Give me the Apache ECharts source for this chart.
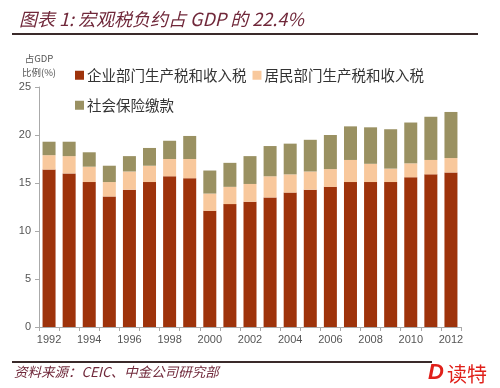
<!DOCTYPE html>
<html><head><meta charset="utf-8">
<script src="https://cdn.jsdelivr.net/npm/echarts@6/dist/echarts.min.js"></script>
<style>html,body{margin:0;padding:0;background:#fff}#c{width:500px;height:388px}</style>
</head><body><div id="c"></div>
<script>
const years = ['1992','1993','1994','1995','1996','1997','1998','1999','2000','2001','2002','2003','2004','2005','2006','2007','2008','2009','2010','2011','2012'];
const corporate = [16.4,16.0,15.1,13.6,14.3,15.1,15.7,15.5,12.1,12.8,13.05,13.5,14.0,14.3,14.6,15.1,15.1,15.1,15.6,15.9,16.1];
const household = [1.5,1.8,1.6,1.5,1.9,1.7,1.8,2.0,1.8,1.8,1.85,2.2,1.9,1.9,1.85,2.3,1.9,1.4,1.45,1.5,1.5];
const social = [1.4,1.5,1.5,1.7,1.6,1.85,1.9,2.4,2.4,2.5,2.9,3.15,3.2,3.3,3.55,3.5,3.8,4.1,4.25,4.5,4.8];
const seriesNames = ['企业部门生产税和收入税','居民部门生产税和收入税','社会保险缴款'];
const yTicks = [0,5,10,15,20,25];

const cjk = '"Noto Sans CJK SC", sans-serif';
const chart = echarts.init(document.getElementById('c'), null, {renderer:'canvas'});
const colors = ['#9e330b','#f8c89c','#9a9162'];
chart.setOption({
  animation:false,
  backgroundColor:'#ffffff',
  color: colors,
  title:{
    text:'图表 1: 宏观税负约占 GDP 的 22.4%',
    left:14, top:5,
    textStyle:{fontFamily:cjk, fontSize:18, fontStyle:'italic', fontWeight:'normal', color:'#70283a'}
  },
  legend:[{
    data:[seriesNames[0], seriesNames[1]],
    left:70, top:63, itemWidth:9, itemHeight:9, itemGap:6, icon:'rect',
    textStyle:{fontFamily:cjk, fontSize:14.5, color:'#333', padding:[0,0,0,-2]}
  },{
    data:[seriesNames[2]],
    left:70, top:93, itemWidth:9, itemHeight:9, icon:'rect',
    textStyle:{fontFamily:cjk, fontSize:14.5, color:'#333', padding:[0,0,0,-2]}
  }],
  grid:{left:39, right:39, top:87, bottom:61},
  xAxis:{
    type:'category', data:years,
    axisLine:{lineStyle:{color:'#aaaaaa'}},
    axisTick:{show:true, interval:0, length:4, lineStyle:{color:'#aaaaaa'}},
    axisLabel:{interval:1, color:'#555', fontSize:11, fontFamily:'"Liberation Sans", Arial, sans-serif', margin:7}
  },
  yAxis:{
    type:'value', min:yTicks[0], max:yTicks[yTicks.length-1], interval:5,
    name:'占GDP\n比例(%)', nameLocation:'end', nameGap:8,
    nameTextStyle:{fontFamily:cjk, fontSize:9.5, color:'#555', align:'center', lineHeight:14, padding:[0,0,0,0]},
    axisLine:{show:true, lineStyle:{color:'#aaaaaa'}},
    axisTick:{show:true, length:4, lineStyle:{color:'#aaaaaa'}},
    splitLine:{show:false},
    axisLabel:{color:'#555', fontSize:11, fontFamily:'"Liberation Sans", Arial, sans-serif', margin:8}
  },
  series:[
    {name:seriesNames[0], type:'bar', stack:'t', data:corporate, barWidth:13},
    {name:seriesNames[1], type:'bar', stack:'t', data:household, barWidth:13},
    {name:seriesNames[2], type:'bar', stack:'t', data:social, barWidth:13}
  ],
  graphic:[
    {type:'rect', left:12, top:33, shape:{width:466, height:2}, style:{fill:'#3a2a2a'}},
    {type:'rect', left:12, top:361, shape:{width:420, height:2}, style:{fill:'#3a2a2a'}},
    {type:'text', left:14, top:365, style:{text:'资料来源：CEIC、中金公司研究部', font:'italic 13.5px "Noto Sans CJK SC"', fill:'#70283a'}},
    {type:'text', left:428, top:362, style:{text:'D', font:'italic bold 22px "Liberation Sans"', fill:'#e0201a'}},
    {type:'text', left:447, top:364, style:{text:'读特', font:'20px "Noto Sans CJK SC"', fill:'#e0201a'}}
  ]
});
</script></body></html>
